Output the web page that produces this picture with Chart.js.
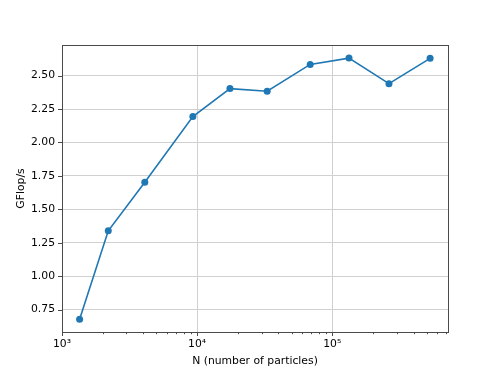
<!DOCTYPE html>
<html>
<head>
<meta charset="utf-8">
<script src="https://cdn.jsdelivr.net/npm/chart.js@4.4.0/dist/chart.umd.min.js"></script>
<style>
    html, body { margin: 0; padding: 0; background: #fff; }
    #wrap { width: 498px; height: 374px; }
</style>
</head>
<body>
<div id="wrap"><canvas id="chart" width="498" height="374"></canvas></div>
<script>
// === DATEN ===
const particleCounts = [1350, 2200, 4100, 9300, 17500, 33000, 68700, 133000, 263000, 530000];
const gflops = [0.678, 1.340, 1.703, 2.194, 2.403, 2.383, 2.584, 2.631, 2.440, 2.629];
const yTicks = [0.75, 1.00, 1.25, 1.50, 1.75, 2.00, 2.25, 2.50];
const xMajorTicks = [1000, 10000, 100000];
const xLabels = { 1000: '10³', 10000: '10⁴', 100000: '10⁵' };

// === KONSTANTEN ===
const LINE_COLOR = '#1f77b4';
const GRID_COLOR = '#d0d0d0';
const FRAME_COLOR = '#4a4a4a';
const FONT = { family: '"DejaVu Sans", sans-serif', size: 10.8 };

// Minor-Ticks 2..9 pro Dekade
function logTicks(min, max) {
    const ticks = [];
    for (let e = 3; e <= 5; e++) {
        for (let m = 1; m <= 9; m++) {
            const v = m * Math.pow(10, e);
            if (v >= min && v <= max) ticks.push(v);
        }
    }
    return ticks;
}
const isMajor = v => xMajorTicks.includes(v);

// Rahmen und Tick-Striche wie bei matplotlib
const framePlugin = {
    id: 'frame',
    afterDraw(chart) {
        const { ctx, chartArea: a, scales } = chart;
        ctx.save();
        ctx.strokeStyle = FRAME_COLOR;
        ctx.lineWidth = 1;
        // Tick-Striche
        scales.x.ticks.forEach(t => {
            const px = Math.round(scales.x.getPixelForValue(t.value)) + 0.5;
            const len = isMajor(t.value) ? 4 : 2.2;
            ctx.beginPath();
            ctx.moveTo(px, a.bottom);
            ctx.lineTo(px, a.bottom + len);
            ctx.stroke();
        });
        scales.y.ticks.forEach(t => {
            const py = Math.round(scales.y.getPixelForValue(t.value)) + 0.5;
            ctx.beginPath();
            ctx.moveTo(a.left, py);
            ctx.lineTo(a.left - 4, py);
            ctx.stroke();
        });
        ctx.strokeRect(Math.round(a.left) + 0.5, Math.round(a.top) + 0.5,
            Math.round(a.right - a.left), Math.round(a.bottom - a.top));
        ctx.restore();
    }
};

new Chart(document.getElementById('chart'), {
    type: 'line',
    data: {
        datasets: [{
            data: particleCounts.map((n, i) => ({ x: n, y: gflops[i] })),
            borderColor: LINE_COLOR,
            backgroundColor: LINE_COLOR,
            borderWidth: 1.6,
            pointRadius: 3.5,
            pointHoverRadius: 3.5,
            pointBorderWidth: 0,
            tension: 0
        }]
    },
    options: {
        responsive: false,
        animation: false,
        layout: { padding: { left: 0, right: 50, top: 45, bottom: 0 } },
        plugins: {
            legend: { display: false },
            tooltip: { enabled: false }
        },
        scales: {
            x: {
                type: 'logarithmic',
                min: 1000,
                max: 719000,
                afterBuildTicks: scale => {
                    scale.ticks = logTicks(1000, 719000).map(v => ({ value: v, major: isMajor(v) }));
                },
                afterFit: scale => { scale.height = 42; },
                grid: {
                    color: c => (c.tick && isMajor(c.tick.value)) ? GRID_COLOR : 'rgba(0,0,0,0)',
                    lineWidth: 1,
                    drawTicks: true,
                    tickLength: 4,
                    tickColor: 'rgba(0,0,0,0)'
                },
                border: { display: false },
                ticks: {
                    autoSkip: false,
                    maxRotation: 0,
                    padding: 2,
                    color: '#000',
                    font: FONT,
                    callback: v => xLabels[v] || ''
                },
                title: {
                    display: true,
                    text: 'N (number of particles)',
                    color: '#000',
                    font: FONT,
                    padding: { top: 0, bottom: 6.5 }
                }
            },
            y: {
                type: 'linear',
                min: 0.583,
                max: 2.729,
                afterBuildTicks: scale => {
                    scale.ticks = yTicks.map(v => ({ value: v }));
                },
                afterFit: scale => { scale.width = 62; },
                grid: {
                    color: GRID_COLOR,
                    lineWidth: 1,
                    drawTicks: true,
                    tickLength: 4,
                    tickColor: 'rgba(0,0,0,0)'
                },
                border: { display: false },
                ticks: {
                    padding: 3,
                    color: '#000',
                    font: FONT,
                    callback: v => Number(v).toFixed(2)
                },
                title: {
                    display: true,
                    text: 'GFlop/s',
                    color: '#000',
                    font: FONT,
                    padding: { top: 15, bottom: 0 }
                }
            }
        }
    },
    plugins: [framePlugin]
});
</script>
</body>
</html>
